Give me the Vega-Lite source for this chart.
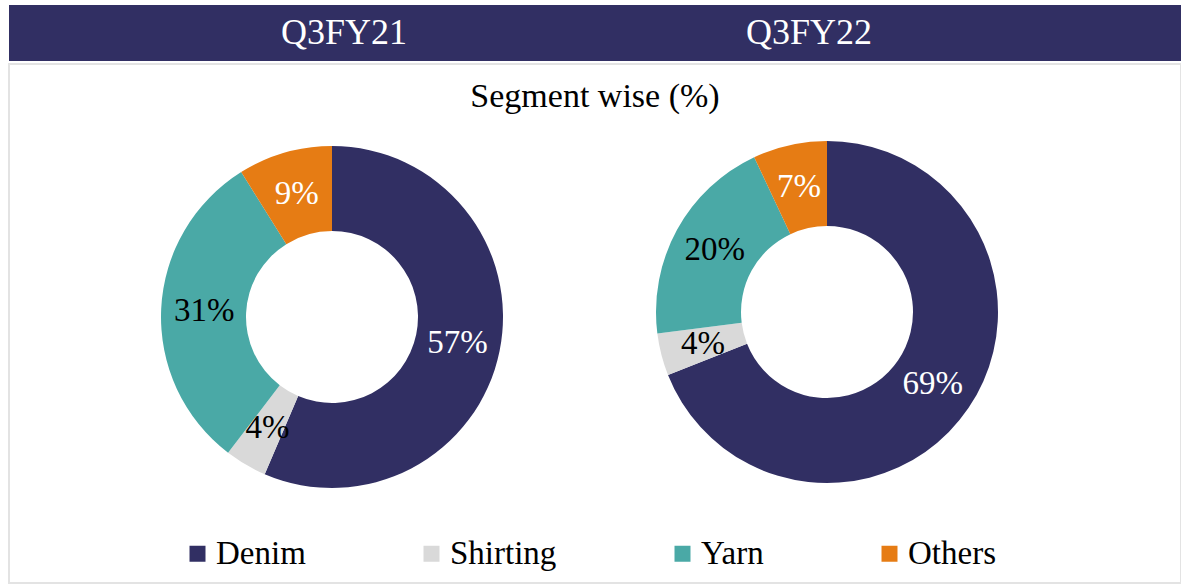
{
  "$schema": "https://vega.github.io/schema/vega-lite/v6.json",
  "padding": {"left": 8, "top": 5, "right": 0, "bottom": 0},
  "background": "white",
  "spacing": 2,
  "config": {
    "font": "Liberation Serif",
    "view": {"stroke": null},
    "legend": {
      "orient": "none",
      "legendX": 172,
      "legendY": 532,
      "direction": "horizontal",
      "columns": 4,
      "symbolType": "square",
      "symbolSize": 256,
      "symbolStrokeWidth": 0,
      "symbolOpacity": 1,
      "labelFont": "Liberation Serif",
      "labelFontSize": 33,
      "labelColor": "#000000",
      "labelOffset": 2,
      "columnPadding": 109,
      "labelLimit": 400
    }
  },
  "datasets": {
    "segments": [
      {"period": "Q3FY21", "segment": "Denim", "value": 57, "label": "57%", "order": 1},
      {"period": "Q3FY21", "segment": "Shirting", "value": 4, "label": "4%", "order": 2},
      {"period": "Q3FY21", "segment": "Yarn", "value": 31, "label": "31%", "order": 3},
      {"period": "Q3FY21", "segment": "Others", "value": 9, "label": "9%", "order": 4},
      {"period": "Q3FY22", "segment": "Denim", "value": 69, "label": "69%", "order": 1},
      {"period": "Q3FY22", "segment": "Shirting", "value": 4, "label": "4%", "order": 2},
      {"period": "Q3FY22", "segment": "Yarn", "value": 20, "label": "20%", "order": 3},
      {"period": "Q3FY22", "segment": "Others", "value": 7, "label": "7%", "order": 4}
    ],
    "periods": [{"period": "Q3FY21"}, {"period": "Q3FY22"}],
    "heading": [{"label": "Segment wise (%)"}]
  },
  "vconcat": [
    {
      "width": 1173,
      "height": 56,
      "view": {"fill": "#312f63", "stroke": null},
      "data": {"name": "periods"},
      "mark": {"type": "text", "fontSize": 36, "color": "#ffffff", "font": "Liberation Serif"},
      "encoding": {
        "x": {"field": "period", "type": "nominal", "scale": {"type": "point", "range": [335, 800], "padding": 0}, "axis": null},
        "text": {"field": "period"}
      }
    },
    {
      "width": 1172,
      "height": 519,
      "view": {"stroke": "#e3e3e3", "strokeWidth": 2},
      "layer": [
        {
          "data": {"name": "heading"},
          "mark": {"type": "text", "fontSize": 34, "dy": -227, "color": "#000000"},
          "encoding": {"text": {"field": "label"}}
        },
        {
          "data": {"name": "segments"},
          "transform": [{"filter": "datum.period === 'Q3FY21'"}],
          "encoding": {
            "x": {"field": "period", "type": "nominal", "scale": {"type": "point", "domain": ["Q3FY21", "Q3FY22"], "range": [323, 818], "padding": 0}, "axis": null},
            "y": {"field": "period", "type": "nominal", "scale": {"type": "point", "domain": ["Q3FY21", "Q3FY22"], "range": [253, 248], "padding": 0}, "axis": null},
            "theta": {"field": "value", "type": "quantitative", "stack": "normalize"},
            "order": {"field": "order", "type": "quantitative", "sort": "ascending"}
          },
          "layer": [
            {
              "mark": {"type": "arc", "outerRadius": 171, "innerRadius": 86},
              "encoding": {
                "color": {"field": "segment", "type": "nominal", "title": null,
                  "scale": {"domain": ["Denim", "Shirting", "Yarn", "Others"], "range": ["#312f63", "#d9d9d9", "#4aa9a6", "#e67c14"]},
                  "legend": {"title": null}}
              }
            },
            {
              "mark": {"type": "text", "radius": 128, "fontSize": 33},
              "encoding": {
                "text": {"field": "label", "type": "nominal"},
                "color": {"condition": {"test": "datum.segment === 'Denim' || datum.segment === 'Others'", "value": "#ffffff"}, "value": "#000000"}
              }
            }
          ]
        },
        {
          "data": {"name": "segments"},
          "transform": [{"filter": "datum.period === 'Q3FY22'"}],
          "encoding": {
            "x": {"field": "period", "type": "nominal", "scale": {"type": "point", "domain": ["Q3FY21", "Q3FY22"], "range": [323, 818], "padding": 0}, "axis": null},
            "y": {"field": "period", "type": "nominal", "scale": {"type": "point", "domain": ["Q3FY21", "Q3FY22"], "range": [253, 248], "padding": 0}, "axis": null},
            "theta": {"field": "value", "type": "quantitative", "stack": "normalize"},
            "order": {"field": "order", "type": "quantitative", "sort": "ascending"}
          },
          "layer": [
            {
              "mark": {"type": "arc", "outerRadius": 171, "innerRadius": 86},
              "encoding": {
                "color": {"field": "segment", "type": "nominal", "title": null,
                  "scale": {"domain": ["Denim", "Shirting", "Yarn", "Others"], "range": ["#312f63", "#d9d9d9", "#4aa9a6", "#e67c14"]},
                  "legend": {"title": null}}
              }
            },
            {
              "mark": {"type": "text", "radius": 128, "fontSize": 33},
              "encoding": {
                "text": {"field": "label", "type": "nominal"},
                "color": {"condition": {"test": "datum.segment === 'Denim' || datum.segment === 'Others'", "value": "#ffffff"}, "value": "#000000"}
              }
            }
          ]
        }
      ]
    }
  ]
}
